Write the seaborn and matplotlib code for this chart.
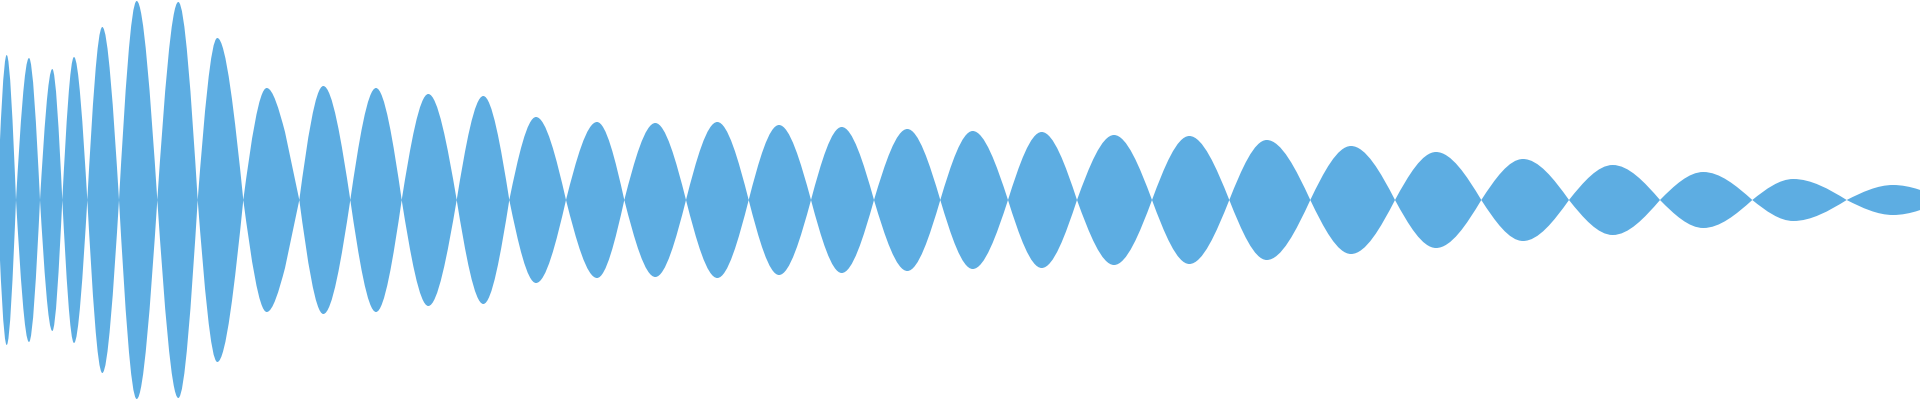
# waveform envelope chart: mirrored lobes between zero crossings

import numpy as np
import matplotlib
matplotlib.use("Agg")
import matplotlib.pyplot as plt
from matplotlib.path import Path
from matplotlib.patches import PathPatch
import seaborn as sns

# ---------------------------------------------------------
# DATA
# ---------------------------------------------------------
# zero crossings of the signal
node_x = [-2.6, 16, 40, 62.3, 87.3, 119, 157.3, 197.7, 243.3, 299.3,
          350.3, 401.7, 456.7, 509.3, 566, 624.3, 686, 748.7, 811, 874,
          940.3, 1008, 1077, 1152, 1229.3, 1310.3, 1395, 1481.3, 1569,
          1660, 1752.3, 1846.7, 1945]

# one peak per lobe
peak_x = [6.7, 29, 52.3, 74, 102.3, 136.7, 178.3, 217.3, 266.7, 323.3,
          376, 428.3, 483.3, 536, 597, 655.3, 717.3, 779, 841.7, 907.3,
          972.7, 1041.7, 1114, 1189.3, 1266.7, 1351, 1436, 1523, 1612.7,
          1703.3, 1793.3, 1893]
peak_amp = [145, 142, 131, 143, 173, 199, 198, 162, 112, 114,
            112, 106, 104, 83, 78, 77, 78, 75, 73, 71,
            69, 68, 65, 64, 60, 54, 48, 41, 35,
            28, 21, 15]

# the one lobe with a shoulder on its falling side
shoulder_lobe = 8
shoulder_x = 285
shoulder_amp = 68

FILL = "#5dade2"

# ---------------------------------------------------------
# KEYPOINTS
# ---------------------------------------------------------
keys = []  # (x, amp, kind)
for i in range(len(peak_x)):
    keys.append((node_x[i], 0.0, "node"))
    keys.append((peak_x[i], peak_amp[i], "peak"))
    if i == shoulder_lobe:
        keys.append((shoulder_x, shoulder_amp, "shoulder"))
keys.append((node_x[-1], 0.0, "node"))


def out_slope(i):
    x, a, kind = keys[i]
    nx, na, nkind = keys[i + 1]
    if kind == "peak":
        return 0.0
    if kind == "node":
        return np.pi / 2 * na / (nx - x)
    return (na - a) / (nx - x)  # shoulder -> straight run down


def in_slope(i):
    x, a, kind = keys[i]
    px, pa, pkind = keys[i - 1]
    if kind == "peak":
        return 0.0
    if kind == "node" and pkind == "peak":
        return -np.pi / 2 * pa / (x - px)
    if kind == "node":
        return (a - pa) / (x - px)
    return -np.pi / 2 * (pa - a) / (x - px)


def bezier_segments(sign):
    verts = []
    for i in range(len(keys) - 1):
        x0, a0, _ = keys[i]
        x1, a1, _ = keys[i + 1]
        h = x1 - x0
        m0, m1 = out_slope(i), in_slope(i + 1)
        verts.append([(x0 + h / 3, sign * (a0 + m0 * h / 3)),
                      (x1 - h / 3, sign * (a1 - m1 * h / 3)),
                      (x1, sign * a1)])
    return verts


# ---------------------------------------------------------
# PATH: upper edge left->right, lower edge right->left
# ---------------------------------------------------------
upper = bezier_segments(1)
lower = bezier_segments(-1)

verts = [(keys[0][0], keys[0][1])]
codes = [Path.MOVETO]
for seg in upper:
    verts += seg
    codes += [Path.CURVE4] * 3

verts.append((keys[-1][0], -keys[-1][1]))
codes.append(Path.LINETO)
for i in range(len(lower) - 1, -1, -1):
    c1, c2, end = lower[i]
    start = (keys[i][0], -keys[i][1])
    verts += [c2, c1, start]
    codes += [Path.CURVE4] * 3
verts.append(verts[0])
codes.append(Path.CLOSEPOLY)

# ---------------------------------------------------------
# PLOT
# ---------------------------------------------------------
sns.set_style("white")
fig = plt.figure(figsize=(19.2, 4), dpi=100)
ax = fig.add_axes([0, 0, 1, 1])
ax.add_patch(PathPatch(Path(verts, codes), facecolor=FILL,
                       edgecolor="none", lw=0))
ax.set_xlim(0, 1920)
ax.set_ylim(-200, 200)
sns.despine(ax=ax, left=True, bottom=True)
ax.set_axis_off()

fig.savefig("out.png", dpi=100, facecolor="white")
